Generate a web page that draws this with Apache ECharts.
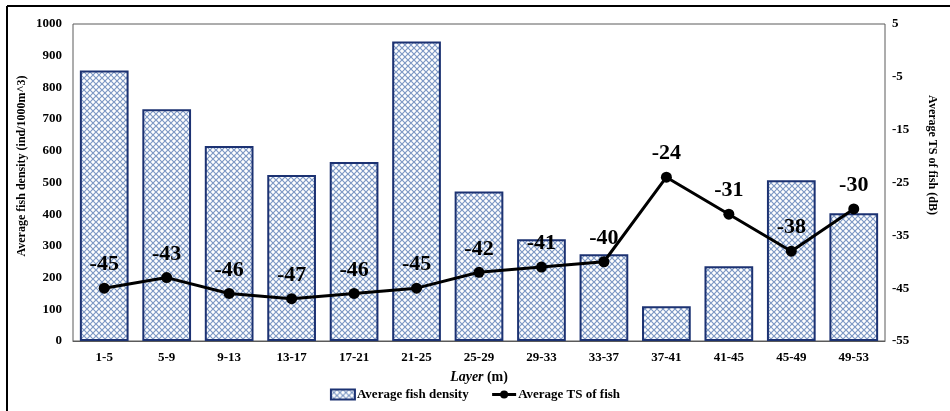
<!DOCTYPE html>
<html>
<head>
<meta charset="utf-8">
<style>
  html, body { margin: 0; padding: 0; background: #ffffff; }
  #chart { width: 950px; height: 411px; }
</style>
<script src="https://cdn.jsdelivr.net/npm/echarts@6/dist/echarts.min.js"></script>
</head>
<body>
<div id="chart"></div>
<script>
// Depth layers (m)
const layers = ['1-5', '5-9', '9-13', '13-17', '17-21', '21-25', '25-29', '29-33', '33-37', '37-41', '41-45', '45-49', '49-53'];
// Average fish density (ind/1000m^3)
const density = [853, 731, 615, 524, 565, 945, 472, 321, 274, 110, 236, 507, 403];
// Average target strength of fish (dB)
const tsValues = [-45, -43, -46, -47, -46, -45, -42, -41, -40, -24, -31, -38, -30];

const FONT = '"Liberation Serif", "Times New Roman", serif';

// Cross-hatched fill for the density bars
function hatchPattern() {
  const c = document.createElement('canvas');
  c.width = 6; c.height = 6;
  const g = c.getContext('2d');
  g.fillStyle = '#ffffff';
  g.fillRect(0, 0, 6, 6);
  g.strokeStyle = '#7d98c4';
  g.lineWidth = 1.2;
  g.beginPath();
  g.moveTo(-1, -1); g.lineTo(7, 7);
  g.moveTo(7, -1); g.lineTo(-1, 7);
  g.stroke();
  return c;
}

const chart = echarts.init(document.getElementById('chart'), null, { renderer: 'canvas' });

const plainNumber = v => String(v);

chart.setOption({
  animation: false,
  backgroundColor: '#ffffff',
  grid: {
    left: 73, right: 65, top: 24, bottom: 70,
    show: true, borderColor: '#5a5a5a', borderWidth: 1
  },
  legend: {
    bottom: 5,
    left: 'center',
    itemGap: 22,
    itemWidth: 24,
    itemHeight: 10,
    textStyle: { fontFamily: FONT, fontWeight: 'bold', fontSize: 13, color: '#000', padding: [0, 0, 0, -3] },
    data: [
      { name: 'Average fish density', icon: 'rect' },
      { name: 'Average TS of fish', lineStyle: { width: 3, color: '#000' } }
    ]
  },
  xAxis: {
    type: 'category',
    data: layers,
    axisLine: { show: true, lineStyle: { color: '#5a5a5a', width: 1 } },
    axisTick: { show: false },
    axisLabel: { fontFamily: FONT, fontWeight: 'bold', fontSize: 13, color: '#000', margin: 10 }
  },
  yAxis: [
    {
      type: 'value', min: 0, max: 1000, interval: 100,
      splitLine: { show: false },
      axisLine: { show: false },
      axisTick: { show: false },
      axisLabel: { fontFamily: FONT, fontWeight: 'bold', fontSize: 13, color: '#000', margin: 11, formatter: plainNumber }
    },
    {
      type: 'value', min: -55, max: 5, interval: 10,
      position: 'right',
      splitLine: { show: false },
      axisLine: { show: false },
      axisTick: { show: false },
      axisLabel: { fontFamily: FONT, fontWeight: 'bold', fontSize: 13, color: '#000', margin: 7, formatter: plainNumber }
    }
  ],
  series: [
    {
      name: 'Average fish density',
      type: 'bar',
      yAxisIndex: 0,
      data: density,
      barCategoryGap: '22%',
      itemStyle: {
        color: { image: hatchPattern(), repeat: 'repeat' },
        borderColor: '#1c3272',
        borderWidth: 2
      }
    },
    {
      name: 'Average TS of fish',
      type: 'line',
      yAxisIndex: 1,
      data: tsValues,
      symbol: 'circle',
      symbolSize: 11,
      lineStyle: { color: '#000', width: 3 },
      itemStyle: { color: '#000' },
      label: {
        show: true,
        position: 'top',
        distance: 7,
        formatter: '{v|{c}}',
        rich: {
          v: { fontFamily: FONT, fontWeight: 'bold', fontSize: 22, color: '#000' }
        }
      },
      z: 5
    }
  ],
  graphic: [
    // outer frame edges
    { type: 'line', shape: { x1: 7, y1: 6, x2: 950, y2: 6 }, style: { stroke: '#000', lineWidth: 2 }, silent: true },
    { type: 'line', shape: { x1: 7, y1: 6, x2: 7, y2: 411 }, style: { stroke: '#000', lineWidth: 2 }, silent: true },
    // left axis title
    {
      type: 'text', x: 22, y: 166, rotation: Math.PI / 2,
      style: {
        text: 'Average fish density (ind/1000m^3)',
        font: 'bold 12px ' + FONT, fill: '#000',
        textAlign: 'center', textVerticalAlign: 'middle'
      }
    },
    // right axis title
    {
      type: 'text', x: 932, y: 155, rotation: -Math.PI / 2,
      style: {
        text: 'Average TS of fish (dB)',
        font: 'bold 12px ' + FONT, fill: '#000',
        textAlign: 'center', textVerticalAlign: 'middle'
      }
    },
    // x axis title
    {
      type: 'text', x: 479, y: 377,
      style: {
        text: '{i|Layer} {b|(m)}',
        textAlign: 'center', textVerticalAlign: 'middle',
        rich: {
          i: { fontFamily: FONT, fontStyle: 'italic', fontWeight: 'bold', fontSize: 14, fill: '#000' },
          b: { fontFamily: FONT, fontWeight: 'bold', fontSize: 14, fill: '#000' }
        }
      }
    }
  ]
});
</script>
</body>
</html>
